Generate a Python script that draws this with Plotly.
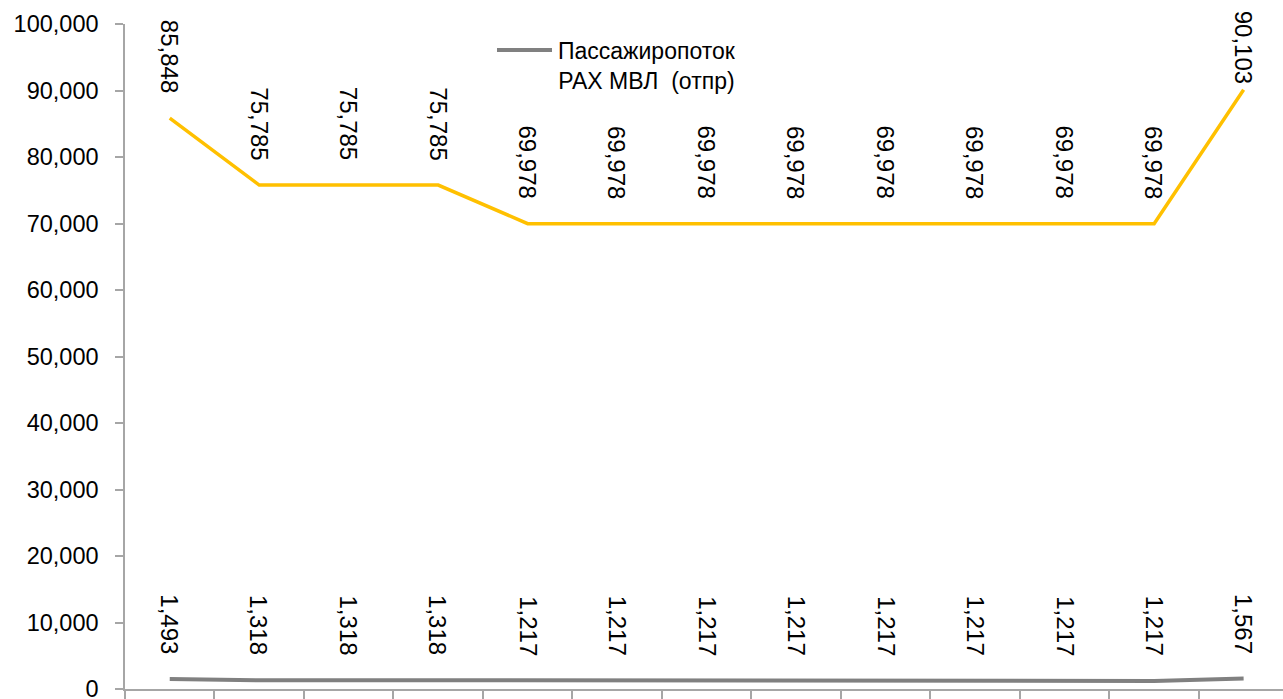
import plotly.graph_objects as go

categories = list(range(13))
rax_mvl = [85848, 75785, 75785, 75785, 69978, 69978, 69978, 69978, 69978, 69978, 69978, 69978, 90103]
rax_mvl_otpr = [1493, 1318, 1318, 1318, 1217, 1217, 1217, 1217, 1217, 1217, 1217, 1217, 1567]
legend_name = "Пассажиропоток<br>РАХ МВЛ  (отпр)"
y_ticks = [0, 10000, 20000, 30000, 40000, 50000, 60000, 70000, 80000, 90000, 100000]

W, H = 1283, 699
ML, MR, MT, MB = 125, 0, 24, 10
FONT = "Liberation Sans"
FS = 23.5

fig = go.Figure()
fig.add_trace(go.Scatter(x=categories, y=rax_mvl, mode="lines",
                         line=dict(color="#FFC000", width=3.5), showlegend=False, hoverinfo="skip"))
fig.add_trace(go.Scatter(x=categories, y=rax_mvl_otpr, mode="lines",
                         line=dict(color="#808080", width=4), name=legend_name, showlegend=False))

plot_h = H - MT - MB
label_len = 73
for series in (rax_mvl, rax_mvl_otpr):
    for x, v in zip(categories, series):
        py = MT + (1 - v / 100000) * plot_h
        ys = max(4, min(23, py - label_len - 14))
        fig.add_annotation(x=x, y=v, text=f"{v:,}", showarrow=False, textangle=90,
                           yanchor="bottom", xanchor="center", yshift=ys,
                           font=dict(family=FONT, size=24, color="black"))

# legend (manual, to match reference sample length)
plot_w = W - ML - MR
def px2paper_x(px):
    return (px - ML) / plot_w
def px2paper_y(py):
    return 1 - (py - MT) / plot_h
fig.add_shape(type="line", xref="paper", yref="paper",
              x0=px2paper_x(497), x1=px2paper_x(552), y0=px2paper_y(50), y1=px2paper_y(50),
              line=dict(color="#808080", width=4))
fig.add_annotation(xref="paper", yref="paper", x=px2paper_x(556), y=px2paper_y(36),
                   xanchor="left", yanchor="top", text=legend_name, showarrow=False, align="center",
                   font=dict(family=FONT, size=23, color="black"))

fig.update_layout(
    width=W, height=H,
    margin=dict(l=ML, r=MR, t=MT, b=MB, autoexpand=False),
    paper_bgcolor="white", plot_bgcolor="white",
    font=dict(family=FONT, size=FS, color="black"),
    showlegend=False,
    xaxis=dict(range=[-0.5, 12.44], showgrid=False, zeroline=False,
               showline=True, linecolor="#A6A6A6", linewidth=1.5,
               tickvals=[i - 0.5 for i in categories], ticktext=["" for _ in categories],
               ticks="outside", ticklen=10, tickcolor="#A6A6A6", tickwidth=1.5,
               automargin=False),
    yaxis=dict(range=[0, 100000], showgrid=False, zeroline=False,
               showline=True, linecolor="#A6A6A6", linewidth=1.5,
               tickvals=y_ticks, tickformat=",", ticks="outside", ticklen=8,
               tickcolor="#A6A6A6", tickwidth=1.5, ticklabelstandoff=12,
               ticklabeloverflow="allow", automargin=False,
               tickfont=dict(family=FONT, size=FS, color="black")),
)

fig.write_html("out.html", config={"displayModeBar": False},
               post_script="document.body.style.margin='0';document.body.style.overflow='hidden';")
